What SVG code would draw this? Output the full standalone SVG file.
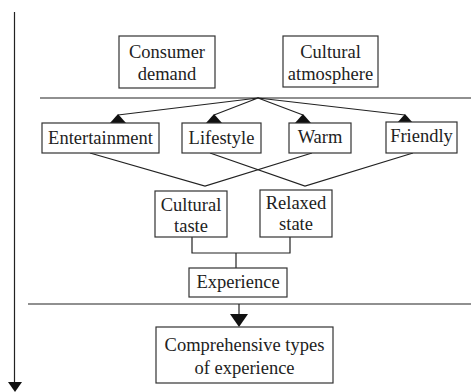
<svg xmlns="http://www.w3.org/2000/svg" width="471" height="392" viewBox="0 0 471 392">
<style>
.box{fill:#fff;stroke:#333;stroke-width:1.2}
text{font-family:'Liberation Serif','Times New Roman','DejaVu Serif',serif;font-size:18.5px;fill:#222;text-anchor:middle}
.ln{stroke:#222;stroke-width:1.2;fill:none}
.ah{fill:#111}
</style>
<rect width="471" height="392" fill="#fff"/>
<g id="connectors">
<line class="ln" x1="14.5" y1="12" x2="14.5" y2="383"/>
<polygon class="ah" points="8,382 22,382 15,392"/>
<line class="ln" x1="40" y1="98" x2="471" y2="98"/>
<line class="ln" x1="28" y1="304" x2="471" y2="304"/>
<polyline class="ln" points="118,115 258,98 214,115"/>
<polyline class="ln" points="303,115 258,98 405,115"/>
<polygon class="ah" points="118,114 110,123 126,123"/>
<polygon class="ah" points="214,114 206,123 222,123"/>
<polygon class="ah" points="303,114 295,123 311,123"/>
<polygon class="ah" points="405,114 397,123 413,123"/>
<polyline class="ln" points="90,153 205,186 312,153"/>
<polyline class="ln" points="210,153 305,186 413,153"/>
<polyline class="ln" points="192,237 192,253 290,253 290,237"/>
<line class="ln" x1="236" y1="253" x2="236" y2="268"/>
<line class="ln" x1="239" y1="304" x2="239" y2="315"/>
<polygon class="ah" points="230,314 248,314 239,327"/>
</g>
<g id="consumer-demand">
<rect class="box" x="119" y="36" width="96" height="52"/>
<text font-family="Liberation Serif" x="167" y="58">Consumer</text>
<text font-family="Liberation Serif" x="167" y="80">demand</text>
</g>
<g id="cultural-atmosphere">
<rect class="box" x="283" y="36" width="95" height="51"/>
<text x="330.5" y="58">Cultural</text>
<text x="330.5" y="80">atmosphere</text>
</g>
<g id="entertainment">
<rect class="box" x="42" y="123" width="117" height="30"/>
<text x="100.5" y="144">Entertainment</text>
</g>
<g id="lifestyle">
<rect class="box" x="182" y="123" width="79" height="30"/>
<text x="221.5" y="144">Lifestyle</text>
</g>
<g id="warm">
<rect class="box" x="289" y="123" width="62" height="30"/>
<text x="320" y="143">Warm</text>
</g>
<g id="friendly">
<rect class="box" x="386" y="122" width="71" height="31"/>
<text x="421.5" y="142">Friendly</text>
</g>
<g id="cultural-taste">
<rect class="box" x="155" y="191" width="72" height="46"/>
<text x="191" y="211">Cultural</text>
<text x="191" y="232">taste</text>
</g>
<g id="relaxed-state">
<rect class="box" x="260" y="190" width="72" height="47"/>
<text x="296" y="209">Relaxed</text>
<text x="296" y="230">state</text>
</g>
<g id="experience">
<rect class="box" x="189" y="268" width="98" height="29"/>
<text x="238" y="288">Experience</text>
</g>
<g id="comprehensive">
<rect class="box" x="156" y="327" width="177" height="56"/>
<text x="244.5" y="351">Comprehensive types</text>
<text x="244.5" y="374">of experience</text>
</g>
</svg>
